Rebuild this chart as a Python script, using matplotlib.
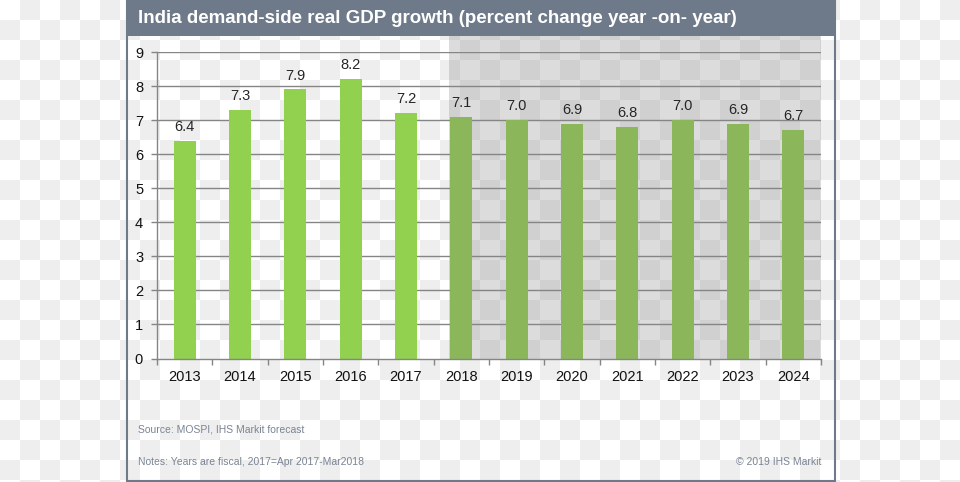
import numpy as np
import matplotlib
matplotlib.use("Agg")
import matplotlib.pyplot as plt
from matplotlib.patches import Rectangle

plt.rcParams['font.family'] = ['Liberation Sans', 'DejaVu Sans']

# ---- data ----
years = ['2013', '2014', '2015', '2016', '2017', '2018', '2019', '2020',
         '2021', '2022', '2023', '2024']
growth = [6.4, 7.3, 7.9, 8.2, 7.2, 7.1, 7.0, 6.9, 6.8, 7.0, 6.9, 6.7]
is_forecast = [False] * 5 + [True] * 7
y_ticks = list(range(0, 10))

title = 'India demand-side real GDP growth (percent change year -on- year)'
source = 'Source: MOSPI, IHS Markit forecast'
notes = 'Notes: Years are fiscal, 2017=Apr 2017-Mar2018'
copyright_txt = '\u00a9 2019 IHS Markit'

# ---- styles ----
W, H = 960, 482
actual_color = '#92d050'
forecast_color = '#8bb75a'
frame_color = '#6e7a89'
grid_color = '#858585'
note_color = '#7a8494'

fig = plt.figure(figsize=(W / 100, H / 100), dpi=100)

# background checkerboard (transparency pattern) in pixel coords
bg = fig.add_axes([0, 0, 1, 1])
bg.set_xlim(0, W)
bg.set_ylim(H, 0)
bg.axis('off')
ncol, nrow = W // 20 + 1, H // 20 + 1
cb = (np.add.outer(np.arange(nrow), np.arange(ncol)) % 2).astype(float)
bg.imshow(cb, cmap=matplotlib.colors.ListedColormap(['#ffffff', '#eeeeee']),
          extent=(0, ncol * 20, nrow * 20, 0), interpolation='nearest',
          aspect='auto', zorder=0)
bg.set_xlim(0, W)
bg.set_ylim(H, 0)

# chart frame
bg.add_patch(Rectangle((126.5, 0), 708, 481, fill=False, edgecolor=frame_color,
                       lw=1.5, zorder=1))
bg.add_patch(Rectangle((126, 0), 709, 36, facecolor=frame_color,
                       edgecolor='none', zorder=2))
bg.text(138, 18.5, title, color='white', fontsize=13.5, fontweight='bold',
        va='center', ha='left', zorder=3)
bg.text(138, 429, source, color=note_color, fontsize=7.5, va='center', ha='left')
bg.text(138, 462, notes, color=note_color, fontsize=7.5, va='center', ha='left')
bg.text(821, 462, copyright_txt, color=note_color, fontsize=7.5, va='center',
        ha='right')

# main axes
left, right, y0, y9 = 157, 821, 358.5, 52
ax = fig.add_axes([left / W, (H - y0) / H, (right - left) / W, (y0 - y9) / H])
ax.patch.set_alpha(0)

x = np.arange(len(years))
colors = [forecast_color if f else actual_color for f in is_forecast]
ax.bar(x, growth, width=0.4, color=colors, zorder=3)

# forecast shading
first_fc = is_forecast.index(True)
ax.axvspan(first_fc - 0.22, len(years) - 0.5, ymin=0, ymax=(y0 - 36) / (y0 - y9),
           color='#959595', alpha=0.33, lw=0, clip_on=False, zorder=1)

for xi, v in zip(x, growth):
    ax.annotate(f'{v:.1f}', (xi, v), xytext=(0, 5), textcoords='offset points',
                ha='center', va='bottom', fontsize=10.5, color='#262626')

ax.set_xlim(-0.5, len(years) - 0.5)
ax.set_ylim(0, 9)
ax.set_yticks(y_ticks)
ax.set_yticklabels([str(t) for t in y_ticks])
ax.set_xticks(x)
ax.set_xticklabels(years)
ax.set_xticks(np.arange(-0.5, len(years)), minor=True)
ax.tick_params(axis='x', which='major', length=0, pad=8, labelsize=10.5,
               labelcolor='#111111')
ax.tick_params(axis='x', which='minor', length=4, color=grid_color, width=1)
ax.tick_params(axis='y', length=4, color=grid_color, width=1, pad=6,
               labelsize=10.5, labelcolor='#111111')
for yv in y_ticks[1:]:
    ax.axhline(yv, color=grid_color, lw=1, zorder=2)
for s in ['top', 'right']:
    ax.spines[s].set_visible(False)
for s in ['left', 'bottom']:
    ax.spines[s].set_color(grid_color)
    ax.spines[s].set_linewidth(1)
    ax.spines[s].set_zorder(4)

fig.savefig('out.png', dpi=100)
